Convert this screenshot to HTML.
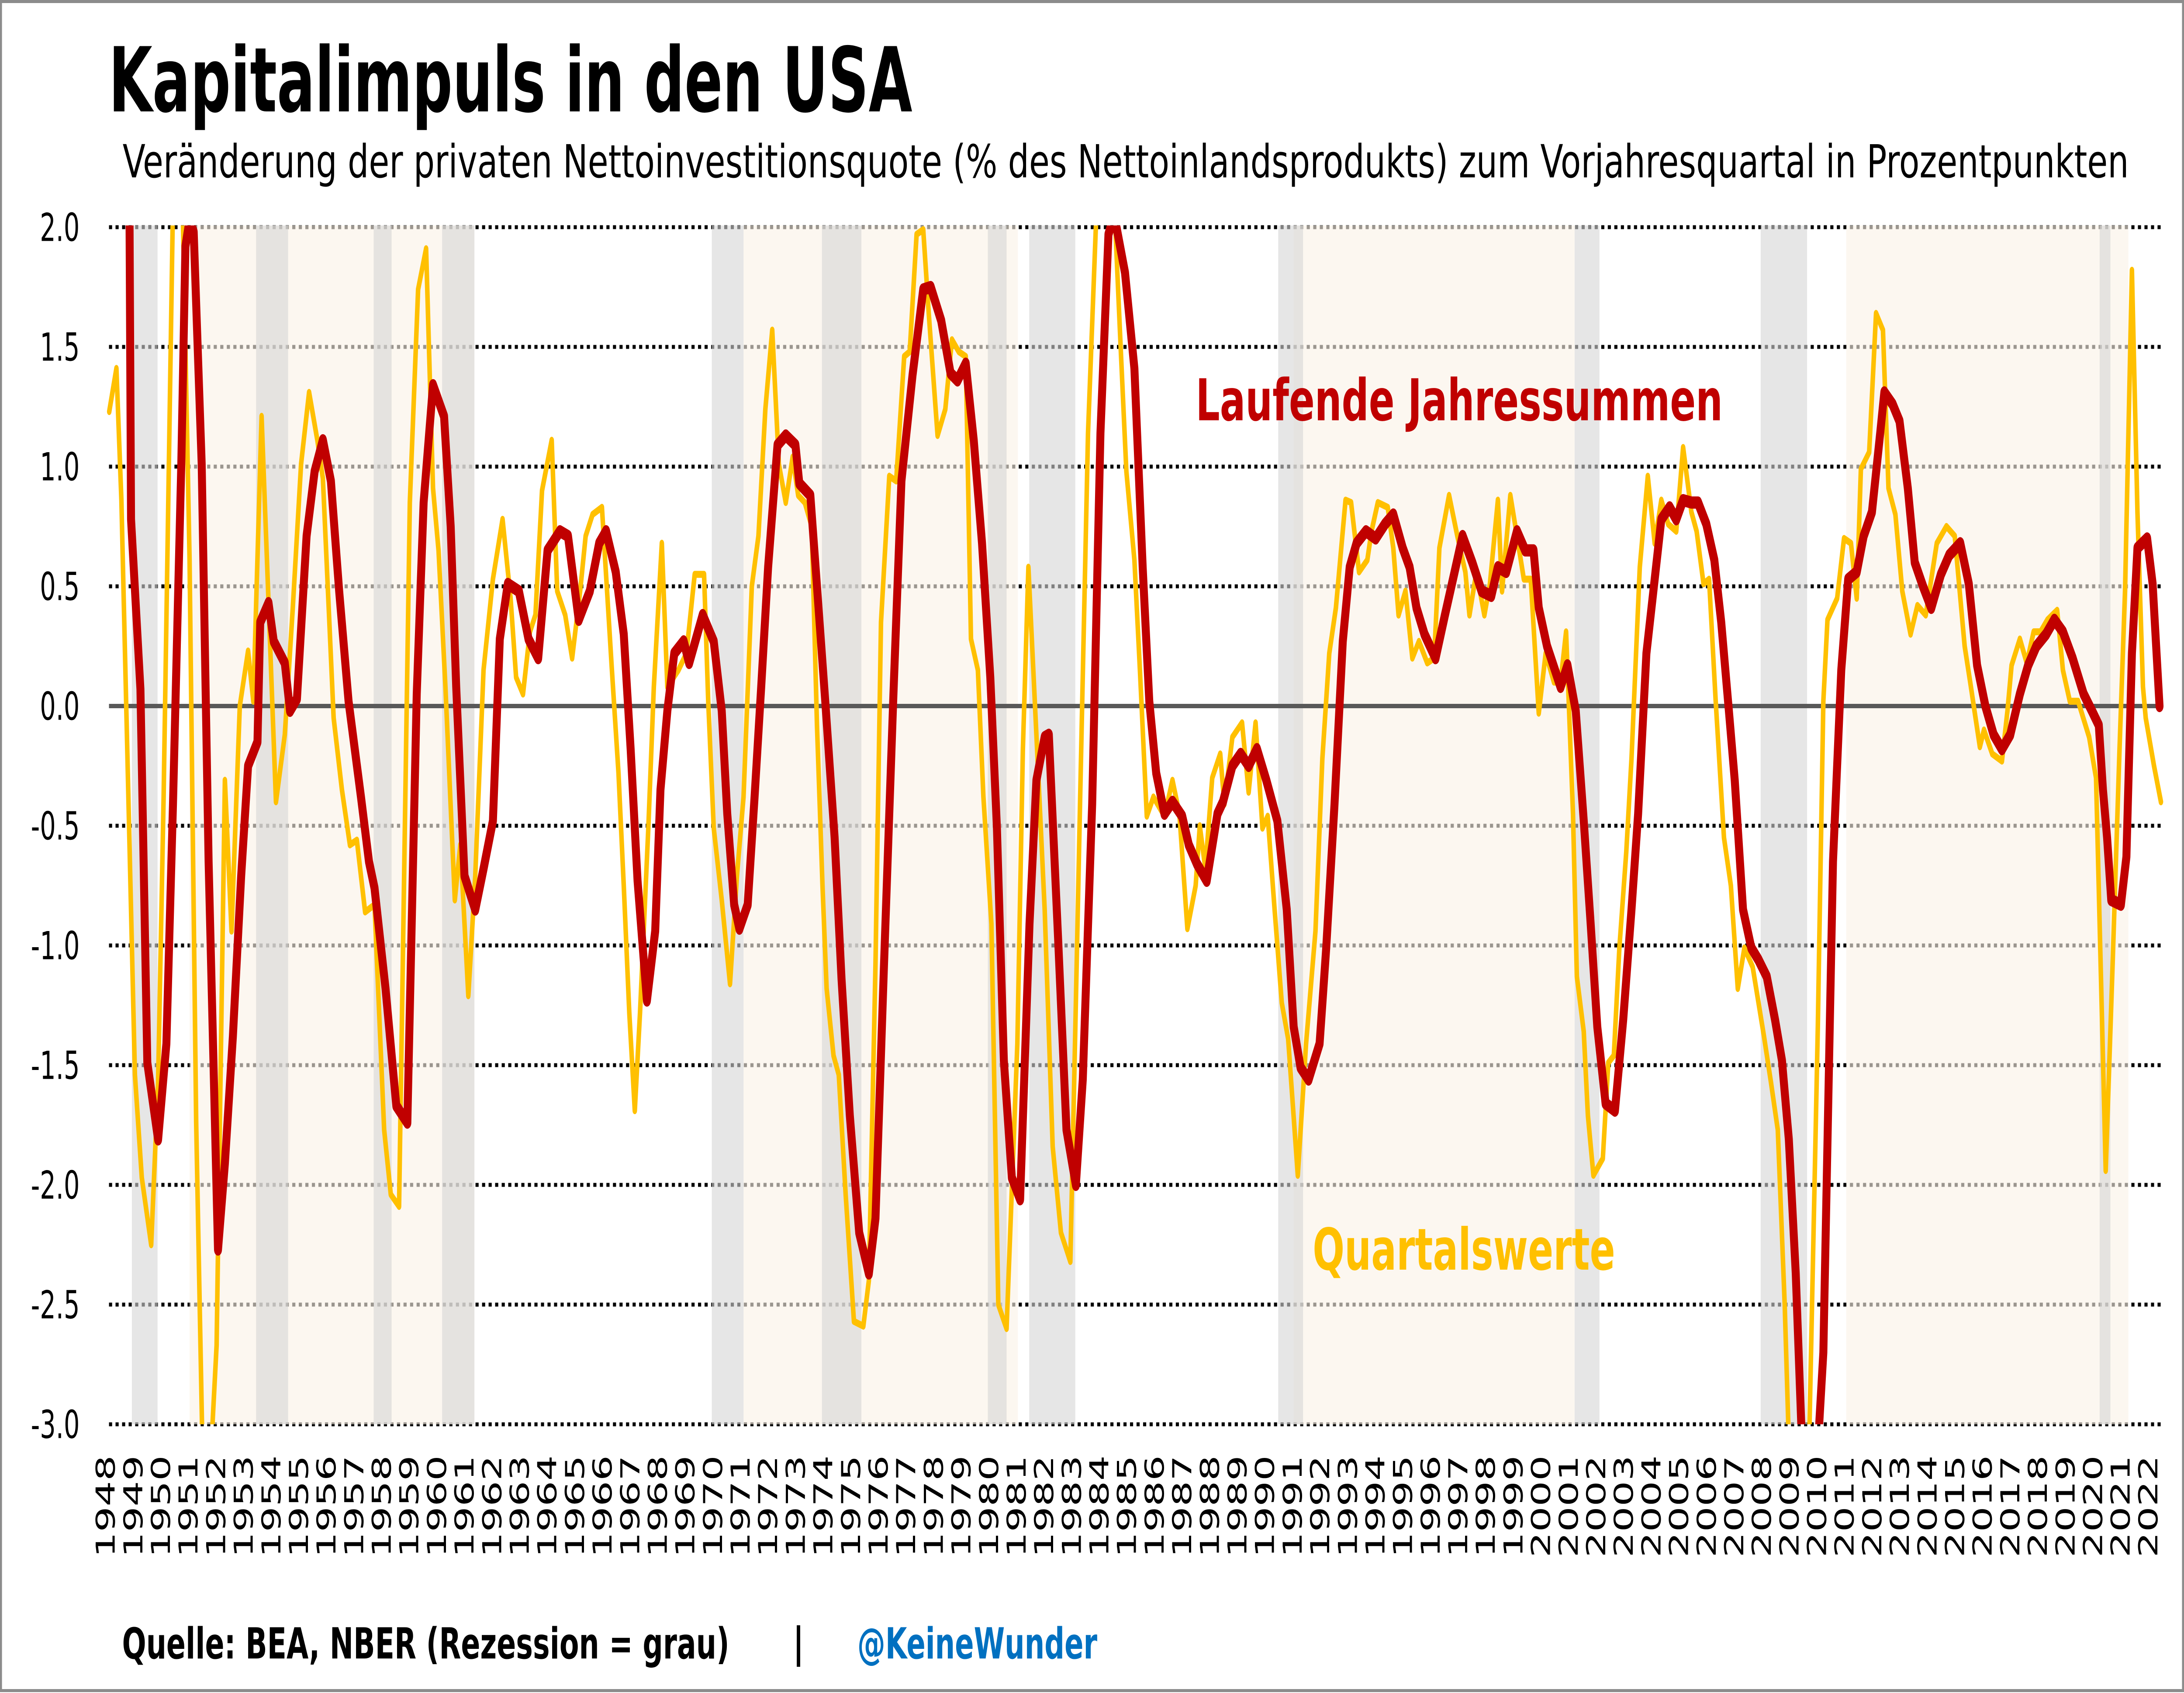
<!DOCTYPE html>
<html>
<head>
<meta charset="utf-8">
<style>
html,body{margin:0;padding:0;background:#fff;width:100%;height:100%;overflow:hidden;}
svg{display:block;width:100vw;height:100vh;}
</style>
</head>
<body>
<svg id="chart" xmlns="http://www.w3.org/2000/svg" viewBox="0 0 7675 3875" preserveAspectRatio="none">
<rect x="0" y="0" width="7675" height="3875" fill="#ffffff"/>
<rect x="3.5" y="3.5" width="7668" height="3866" fill="none" stroke="#8c8c8c" stroke-width="7"/>
<text x="382" y="255" font-family="'DejaVu Sans','Liberation Sans',sans-serif" font-weight="bold" font-size="205" textLength="2824" lengthAdjust="spacingAndGlyphs" fill="#000">Kapitalimpuls in den USA</text>
<text x="431" y="406" font-family="'DejaVu Sans','Liberation Sans',sans-serif" font-size="104" textLength="7050" lengthAdjust="spacingAndGlyphs" fill="#000">Veränderung der privaten Nettoinvestitionsquote (% des Nettoinlandsprodukts) zum Vorjahresquartal in Prozentpunkten</text>
<defs>
<clipPath id="plotClip"><rect x="300" y="516" width="7310" height="2744"/></clipPath>
</defs>
<g id="grid"></g>
<g id="bands"></g>
<g id="axes"></g>
<g id="series" clip-path="url(#plotClip)"></g>
<text x="4202" y="962" font-family="'DejaVu Sans','Liberation Sans',sans-serif" font-weight="bold" font-size="132" textLength="1852" lengthAdjust="spacingAndGlyphs" fill="#c00000">Laufende Jahressummen</text>
<text x="4613" y="2906" font-family="'DejaVu Sans','Liberation Sans',sans-serif" font-weight="bold" font-size="132" textLength="1063" lengthAdjust="spacingAndGlyphs" fill="#ffc000">Quartalswerte</text>
<text x="429" y="3796" font-family="'DejaVu Sans','Liberation Sans',sans-serif" font-weight="bold" font-size="98" textLength="2134" lengthAdjust="spacingAndGlyphs" fill="#000">Quelle: BEA, NBER (Rezession = grau)</text>
<rect x="2800" y="3720" width="12" height="95" fill="#000"/>
<text x="3013" y="3796" font-family="'DejaVu Sans','Liberation Sans',sans-serif" font-weight="bold" font-size="98" textLength="843" lengthAdjust="spacingAndGlyphs" fill="#0070c0">@KeineWunder</text>
</svg>
<script>
const yTicks = [2.0, 1.5, 1.0, 0.5, 0.0, -0.5, -1.0, -1.5, -2.0, -2.5, -3.0];
const yTickLabels = ["2.0","1.5","1.0","0.5","0.0","-0.5","-1.0","-1.5","-2.0","-2.5","-3.0"];
const yearLabels = [];
for (let y = 1948; y <= 2022; y++) yearLabels.push(String(y));
const recessionStart = [1948.86,1953.36,1957.62,1960.10,1969.87,1973.86,1979.87,1981.37,1990.39,2001.13,2007.87,2020.15];
const recessionEnd   = [1949.79,1954.52,1958.27,1961.27,1971.02,1975.29,1980.55,1983.04,1991.29,2002.03,2009.55,2020.54];
const expansionStart = [1950.95,1971.02,1990.95,2010.97];
const expansionEnd   = [1961.27,1980.96,2001.13,2021.19];
const quarterlyTimes = [1948.04,1948.30,1948.48,1948.97,1949.22,1949.56,1949.81,1950.01,1950.35,1950.50,1950.68,1950.95,1951.19,1951.45,1951.69,1951.93,1952.23,1952.47,1952.77,1953.07,1953.26,1953.56,1954.08,1954.40,1954.69,1954.99,1955.28,1955.58,1955.78,1956.17,1956.47,1956.76,1957.01,1957.31,1957.65,1958.00,1958.24,1958.54,1958.93,1959.23,1959.52,1959.77,1959.97,1960.22,1960.56,1960.76,1961.05,1961.30,1961.60,1961.94,1962.29,1962.58,1962.78,1963.03,1963.28,1963.48,1963.72,1964.07,1964.27,1964.56,1964.81,1965.10,1965.30,1965.55,1965.89,1966.24,1966.49,1966.68,1966.88,1967.08,1967.27,1967.57,1967.77,1968.06,1968.26,1968.66,1968.95,1969.25,1969.59,1969.74,1969.94,1970.23,1970.53,1970.78,1971.02,1971.32,1971.56,1971.81,1972.06,1972.30,1972.55,1972.80,1973.00,1973.24,1973.49,1973.68,1973.88,1974.03,1974.28,1974.47,1974.72,1975.02,1975.36,1975.56,1975.80,1976.00,1976.30,1976.55,1976.84,1977.04,1977.29,1977.53,1977.73,1978.05,1978.33,1978.57,1978.82,1979.07,1979.26,1979.51,1979.71,1980.00,1980.25,1980.55,1980.94,1981.14,1981.34,1981.63,1981.93,1982.22,1982.52,1982.86,1983.06,1983.21,1983.50,1983.80,1984.05,1984.30,1984.49,1984.69,1984.89,1985.18,1985.38,1985.63,1985.87,1986.27,1986.56,1986.81,1987.10,1987.40,1987.55,1987.75,1988.00,1988.29,1988.44,1988.73,1989.08,1989.32,1989.57,1989.82,1990.01,1990.26,1990.52,1990.75,1991.10,1991.40,1991.74,1991.99,1992.24,1992.48,1992.83,1993.03,1993.32,1993.62,1993.77,1994.00,1994.36,1994.56,1994.75,1995.00,1995.25,1995.49,1995.79,1996.04,1996.23,1996.58,1996.88,1997.17,1997.32,1997.57,1997.86,1998.06,1998.35,1998.50,1998.80,1999.04,1999.29,1999.54,1999.83,2000.08,2000.38,2000.62,2000.82,2001.07,2001.21,2001.46,2001.61,2001.81,2002.15,2002.35,2002.55,2002.75,2003.00,2003.19,2003.49,2003.78,2004.03,2004.27,2004.52,2004.81,2005.06,2005.36,2005.55,2005.80,2006.00,2006.24,2006.54,2006.79,2007.04,2007.28,2007.58,2007.99,2008.24,2008.49,2008.74,2009.00,2009.30,2009.64,2009.94,2010.14,2010.29,2010.64,2010.89,2011.14,2011.35,2011.50,2011.80,2012.05,2012.30,2012.50,2012.75,2013.00,2013.30,2013.55,2013.85,2014.25,2014.60,2014.90,2015.26,2015.46,2015.81,2015.96,2016.26,2016.61,2016.81,2016.96,2017.26,2017.51,2017.76,2018.01,2018.26,2018.61,2018.82,2019.07,2019.37,2019.77,2020.02,2020.37,2020.62,2020.87,2021.07,2021.32,2021.52,2021.72,2021.82,2022.12,2022.37];
const quarterlyValues = [1.23,1.41,0.86,-1.54,-1.97,-2.25,-1.57,-0.38,2.1,2.6,2.2,0.61,-1.74,-3.3,-3.2,-2.67,-0.31,-0.94,0.0,0.23,0.02,1.21,-0.40,-0.12,0.41,1.01,1.31,1.11,0.95,-0.05,-0.35,-0.58,-0.56,-0.86,-0.83,-1.77,-2.04,-2.09,0.85,1.74,1.91,0.91,0.65,0.08,-0.81,-0.58,-1.21,-0.71,0.15,0.53,0.78,0.45,0.12,0.05,0.31,0.38,0.90,1.11,0.48,0.38,0.20,0.48,0.71,0.80,0.83,0.17,-0.28,-0.75,-1.28,-1.69,-1.28,-0.51,0.08,0.68,0.08,0.15,0.22,0.55,0.55,0.02,-0.51,-0.81,-1.16,-0.71,-0.38,0.50,0.71,1.24,1.57,1.01,0.85,1.04,0.88,0.85,0.75,-0.08,-0.75,-1.18,-1.46,-1.54,-2.04,-2.57,-2.59,-2.40,-1.08,0.35,0.96,0.94,1.46,1.48,1.97,1.99,1.64,1.13,1.24,1.53,1.48,1.46,0.28,0.15,-0.38,-0.91,-2.50,-2.60,-1.41,-0.18,0.58,-0.12,-0.85,-1.84,-2.20,-2.32,-1.24,-0.41,1.14,2.05,2.6,2.4,2.0,1.48,0.98,0.61,0.15,-0.46,-0.38,-0.46,-0.31,-0.45,-0.93,-0.75,-0.50,-0.68,-0.30,-0.20,-0.41,-0.13,-0.07,-0.36,-0.07,-0.51,-0.46,-0.85,-1.24,-1.39,-1.96,-1.41,-0.94,-0.22,0.22,0.41,0.86,0.85,0.56,0.61,0.73,0.85,0.83,0.66,0.38,0.48,0.20,0.27,0.18,0.20,0.66,0.88,0.71,0.56,0.38,0.56,0.38,0.51,0.86,0.48,0.88,0.71,0.53,0.53,-0.03,0.22,0.10,0.10,0.31,-0.45,-1.13,-1.36,-1.71,-1.96,-1.89,-1.49,-1.46,-1.01,-0.61,-0.22,0.58,0.96,0.68,0.86,0.76,0.73,1.08,0.81,0.73,0.51,0.53,0.02,-0.55,-0.75,-1.18,-1.01,-1.09,-1.38,-1.57,-1.77,-2.50,-3.5,-3.6,-3.0,-1.34,0.02,0.36,0.45,0.70,0.68,0.45,0.99,1.06,1.64,1.57,0.91,0.80,0.48,0.30,0.42,0.38,0.68,0.75,0.71,0.25,0.10,-0.17,-0.10,-0.20,-0.23,-0.02,0.17,0.28,0.18,0.31,0.31,0.36,0.40,0.15,0.02,0.02,-0.13,-0.30,-1.94,-1.08,-0.18,0.48,1.82,0.81,0.08,-0.05,-0.25,-0.40];
const annualTimes = [1948.75,1948.83,1949.17,1949.42,1949.81,1950.11,1950.35,1950.65,1950.80,1950.95,1951.10,1951.39,1951.64,1951.98,1952.23,1952.52,1952.82,1953.07,1953.41,1953.51,1953.81,1954.00,1954.40,1954.59,1954.84,1955.19,1955.48,1955.78,1956.07,1956.37,1956.71,1957.16,1957.45,1957.65,1958.05,1958.44,1958.84,1959.18,1959.43,1959.77,1960.17,1960.41,1960.61,1960.91,1961.30,1961.60,1961.94,1962.19,1962.48,1962.88,1963.23,1963.58,1963.92,1964.37,1964.66,1965.05,1965.45,1965.79,1966.04,1966.39,1966.68,1966.93,1967.18,1967.52,1967.82,1968.01,1968.26,1968.51,1968.85,1969.05,1969.54,1969.94,1970.23,1970.43,1970.68,1970.87,1971.17,1971.42,1971.66,1971.91,1972.25,1972.55,1972.90,1973.04,1973.44,1973.68,1973.98,1974.32,1974.57,1974.87,1975.21,1975.56,1975.80,1976.10,1976.45,1976.74,1977.14,1977.53,1977.80,1978.18,1978.52,1978.77,1979.07,1979.36,1979.66,1979.96,1980.20,1980.45,1980.74,1981.04,1981.38,1981.63,1981.93,1982.08,1982.42,1982.72,1983.06,1983.31,1983.65,1983.95,1984.24,1984.45,1984.84,1985.18,1985.48,1985.72,1985.97,1986.27,1986.56,1986.91,1987.15,1987.45,1987.80,1988.19,1988.39,1988.73,1989.03,1989.32,1989.62,1989.96,1990.36,1990.70,1990.95,1991.20,1991.49,1991.89,1992.13,1992.43,1992.73,1992.98,1993.23,1993.57,1993.92,1994.26,1994.56,1994.90,1995.15,1995.40,1995.69,1996.09,1996.43,1996.78,1997.07,1997.42,1997.76,1998.11,1998.35,1998.65,1999.04,1999.34,1999.64,1999.83,2000.13,2000.62,2000.87,2001.17,2001.46,2001.71,2001.95,2002.25,2002.59,2002.89,2003.19,2003.43,2003.73,2004.03,2004.27,2004.57,2004.81,2005.06,2005.36,2005.60,2005.90,2006.19,2006.44,2006.74,2006.93,2007.23,2007.53,2007.79,2008.09,2008.39,2008.64,2008.89,2009.14,2009.34,2009.60,2009.99,2010.14,2010.49,2010.79,2011.04,2011.35,2011.60,2011.90,2012.20,2012.35,2012.65,2012.90,2013.20,2013.45,2013.75,2014.05,2014.40,2014.70,2015.10,2015.41,2015.71,2016.01,2016.31,2016.61,2016.91,2017.26,2017.56,2017.86,2018.21,2018.51,2018.82,2019.17,2019.57,2019.87,2020.12,2020.27,2020.42,2020.57,2020.92,2021.12,2021.32,2021.52,2021.87,2022.07,2022.32];
const annualValues = [2.6,0.78,0.07,-1.49,-1.81,-1.41,-0.41,1.01,1.92,2.03,1.98,1.01,-0.65,-2.27,-1.91,-1.38,-0.71,-0.25,-0.15,0.35,0.43,0.27,0.18,-0.02,0.03,0.71,0.98,1.11,0.94,0.48,0.02,-0.38,-0.65,-0.76,-1.18,-1.67,-1.74,0.05,0.85,1.34,1.21,0.75,0.08,-0.71,-0.85,-0.68,-0.48,0.28,0.51,0.48,0.28,0.20,0.65,0.73,0.71,0.36,0.48,0.68,0.73,0.56,0.30,-0.18,-0.73,-1.23,-0.94,-0.35,-0.02,0.22,0.27,0.18,0.38,0.27,-0.02,-0.45,-0.83,-0.93,-0.83,-0.38,0.08,0.58,1.09,1.13,1.09,0.93,0.88,0.50,0.02,-0.55,-1.14,-1.71,-2.20,-2.37,-2.14,-1.11,0.05,0.94,1.38,1.74,1.75,1.61,1.39,1.36,1.43,1.11,0.68,0.12,-0.51,-1.48,-1.97,-2.06,-0.91,-0.31,-0.13,-0.12,-0.98,-1.77,-2.00,-1.56,-0.41,1.14,1.97,2.05,1.81,1.41,0.58,0.02,-0.28,-0.45,-0.40,-0.46,-0.58,-0.66,-0.73,-0.45,-0.40,-0.25,-0.20,-0.25,-0.18,-0.31,-0.48,-0.85,-1.34,-1.51,-1.56,-1.41,-1.01,-0.41,0.27,0.58,0.68,0.73,0.70,0.76,0.80,0.66,0.58,0.41,0.30,0.20,0.38,0.56,0.71,0.60,0.48,0.46,0.58,0.56,0.73,0.65,0.65,0.41,0.25,0.08,0.17,-0.02,-0.48,-0.91,-1.34,-1.66,-1.69,-1.31,-0.85,-0.45,0.22,0.53,0.78,0.83,0.78,0.86,0.85,0.85,0.76,0.61,0.35,-0.05,-0.31,-0.85,-1.01,-1.06,-1.13,-1.31,-1.48,-1.81,-2.37,-3.00,-3.4,-3.00,-2.70,-0.65,0.15,0.53,0.56,0.71,0.81,1.14,1.31,1.26,1.19,0.91,0.60,0.50,0.41,0.55,0.63,0.68,0.51,0.17,0.00,-0.12,-0.18,-0.12,0.05,0.17,0.25,0.30,0.36,0.31,0.20,0.05,-0.02,-0.08,-0.35,-0.55,-0.81,-0.83,-0.63,0.22,0.66,0.70,0.51,0.00];

const NS = "http://www.w3.org/2000/svg";
function xScale(t){ return 380 + (t - 1948) * 97; }
function yScale(v){ return 1616 - v * 548; }
function mk(tag, attrs, parent){
  const el = document.createElementNS(NS, tag);
  for (const k in attrs) el.setAttribute(k, attrs[k]);
  parent.appendChild(el);
  return el;
}
const gGrid = document.getElementById("grid");
const gBands = document.getElementById("bands");
const gAxes = document.getElementById("axes");
const gSeries = document.getElementById("series");

yTicks.forEach(function(v, i){
  if (v !== 0) {
    const ln = mk("line", {x1:383, x2:7600, y1:yScale(v), y2:yScale(v), stroke:"#000", "stroke-width":9, "stroke-dasharray":"11 12"}, gGrid);
    
    
  }
  const tx = mk("text", {x:280, y:yScale(v), "text-anchor":"end", dy:"0.36em", "font-family":"'DejaVu Sans','Liberation Sans',sans-serif", "font-size":88, fill:"#000"}, gAxes);
  tx.textContent = yTickLabels[i];
  
  
});

expansionStart.forEach(function(s, i){
  const r = mk("rect", {x:xScale(s), y:516, width:xScale(expansionEnd[i]) - xScale(s), height:2744, fill:"#faf2e7", "fill-opacity":0.62}, gBands);
  
  
});
recessionStart.forEach(function(s, i){
  const r = mk("rect", {x:xScale(s), y:516, width:xScale(recessionEnd[i]) - xScale(s), height:2744, fill:"#d6d6d6", "fill-opacity":0.6}, gBands);
  
  
});

const zl = mk("line", {x1:383, x2:7600, y1:yScale(0), y2:yScale(0), stroke:"#595959", "stroke-width":10}, gAxes);



yearLabels.forEach(function(lbl, i){
  const x = 370 + i * 97;
  const tx = mk("text", {transform:"translate(" + x + ",3565) rotate(-90)", "text-anchor":"start", dy:"0.36em", "font-family":"'DejaVu Sans','Liberation Sans',sans-serif", "font-size":92, fill:"#000"}, gAxes);
  tx.textContent = lbl;
  
  
});

function pathFrom(ts, vs){
  return ts.map(function(t, i){ return (i ? "L" : "M") + xScale(t).toFixed(1) + "," + yScale(vs[i]).toFixed(1); }).join(" ");
}
const pq = mk("path", {d:pathFrom(quarterlyTimes, quarterlyValues), fill:"none", stroke:"#ffc000", "stroke-width":16, "stroke-linejoin":"round", "stroke-linecap":"round"}, gSeries);


const pa = mk("path", {d:pathFrom(annualTimes, annualValues), fill:"none", stroke:"#c00000", "stroke-width":28, "stroke-linejoin":"round", "stroke-linecap":"round"}, gSeries);


</script>
</body>
</html>
